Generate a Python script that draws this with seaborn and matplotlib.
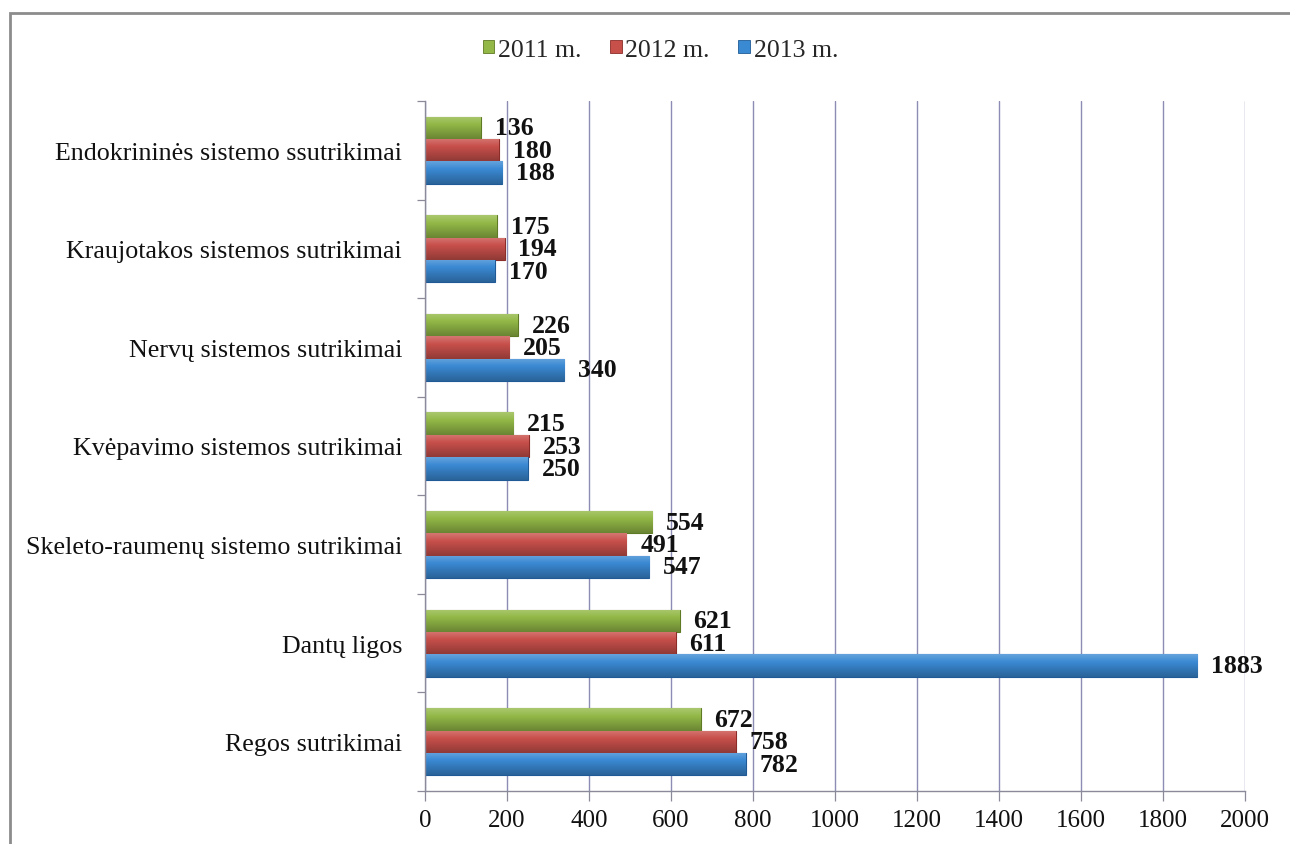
import numpy as np
import pandas as pd
import matplotlib
matplotlib.use("Agg")
import matplotlib.pyplot as plt
import seaborn as sns
from matplotlib.colors import to_rgb
from matplotlib.patches import Rectangle, Patch

# Categories (top to bottom) and values per year
categories = [
    "Endokrininės sistemo ssutrikimai",
    "Kraujotakos sistemos sutrikimai",
    "Nervų sistemos sutrikimai",
    "Kvėpavimo sistemos sutrikimai",
    "Skeleto-raumenų sistemo sutrikimai",
    "Dantų ligos",
    "Regos sutrikimai",
]
years = ["2011 m.", "2012 m.", "2013 m."]
values_2011 = [136, 175, 226, 215, 554, 621, 672]
values_2012 = [180, 194, 205, 253, 491, 611, 758]
values_2013 = [188, 170, 340, 250, 547, 1883, 782]
x_ticks = [0, 200, 400, 600, 800, 1000, 1200, 1400, 1600, 1800, 2000]

colors = ["#93B847", "#C8504B", "#3A89D3"]
edges = ["#5E7A25", "#8B2C28", "#1F5A96"]

df = pd.DataFrame({
    "Kategorija": categories * 3,
    "Metai": [y for y in years for _ in categories],
    "Reikšmė": values_2011 + values_2012 + values_2013,
})

sns.set_theme(style="white")
plt.rcParams["font.family"] = ["Liberation Serif", "DejaVu Serif"]

fig = plt.figure(figsize=(12.9, 8.45), dpi=100)
ax = fig.add_axes([425 / 1290, 1 - 792 / 845, 820 / 1290, 690 / 845])

sns.barplot(data=df, y="Kategorija", x="Reikšmė", hue="Metai",
            order=categories, hue_order=years, palette=colors,
            orient="h", width=0.68, gap=0.0, dodge=True, ax=ax,
            legend=False, saturation=1.0)

# Edge colours and a glossy vertical gradient on every bar
for cont, base, edge in zip(ax.containers, colors, edges):
    rgb = np.array(to_rgb(base))
    for p in cont:
        p.set_edgecolor(edge)
        p.set_linewidth(0.8)
        x0, y0 = p.get_x(), p.get_y()
        w, h = p.get_width(), p.get_height()
        t = np.linspace(0, 1, 64)[:, None]
        light = np.clip(rgb + 0.22 * (1 - rgb), 0, 1)
        dark = rgb * 0.72
        grad = np.where(t < 0.35,
                        light + (rgb - light) * (t / 0.35),
                        rgb + (dark - rgb) * ((t - 0.35) / 0.65))
        img = np.repeat(grad[:, None, :], 2, axis=1).reshape(64, 2, 3)
        im = ax.imshow(img, extent=(x0, x0 + w, y0 + h, y0), origin="upper",
                       aspect="auto", zorder=p.get_zorder() + 0.1,
                       interpolation="bilinear")
        im.set_clip_path(p)

    ax.bar_label(cont, labels=[f"{int(v)}" for v in cont.datavalues],
                 padding=10, fontsize=18.5, fontweight="bold", color="#111111")

ax.set_xlim(0, 2000)
ax.set_ylim(len(categories) - 0.5, -0.5)
ax.set_xticks(x_ticks)
ax.set_xticklabels([str(v) for v in x_ticks], fontsize=18)
ax.set_yticks(range(len(categories)))
ax.set_yticklabels(categories, fontsize=18.7)
ax.set_yticks(np.arange(-0.5, len(categories)), minor=True)
ax.set_xlabel("")
ax.set_ylabel("")

ax.tick_params(axis="y", which="major", length=0, pad=16.5, colors="#111111")
ax.tick_params(axis="y", which="minor", length=6, width=0.9, color="#8a8a9a", left=True)
ax.tick_params(axis="x", which="major", length=7, width=0.9, color="#8a8a9a",
               pad=6, bottom=True, labelcolor="#111111")

ax.grid(axis="x", color="#8C8CB4", linewidth=1.0)
ax.grid(axis="y", visible=False)
ax.set_axisbelow(True)
for s in ["top", "right"]:
    ax.spines[s].set_visible(False)
for s in ["left", "bottom"]:
    ax.spines[s].set_color("#8a8a9a")
    ax.spines[s].set_linewidth(1.0)

# Legend along the top
handles = [Patch(facecolor=c, edgecolor=e, linewidth=0.6) for c, e in zip(colors, edges)]
fig.legend(handles, years, loc="center", bbox_to_anchor=(0.512, 0.940), ncol=3,
           frameon=False, fontsize=18.5, handlelength=0.45, handleheight=0.45,
           handletextpad=0.15, columnspacing=1.1)

# Outer chart frame
fig.patches.append(Rectangle((10 / 1290, -0.05), 1.1, 1 - 14 / 845 + 0.05,
                             transform=fig.transFigure, fill=False,
                             edgecolor="#8c8c8c", linewidth=2.0, zorder=0))

fig.savefig("out.png", dpi=100)
